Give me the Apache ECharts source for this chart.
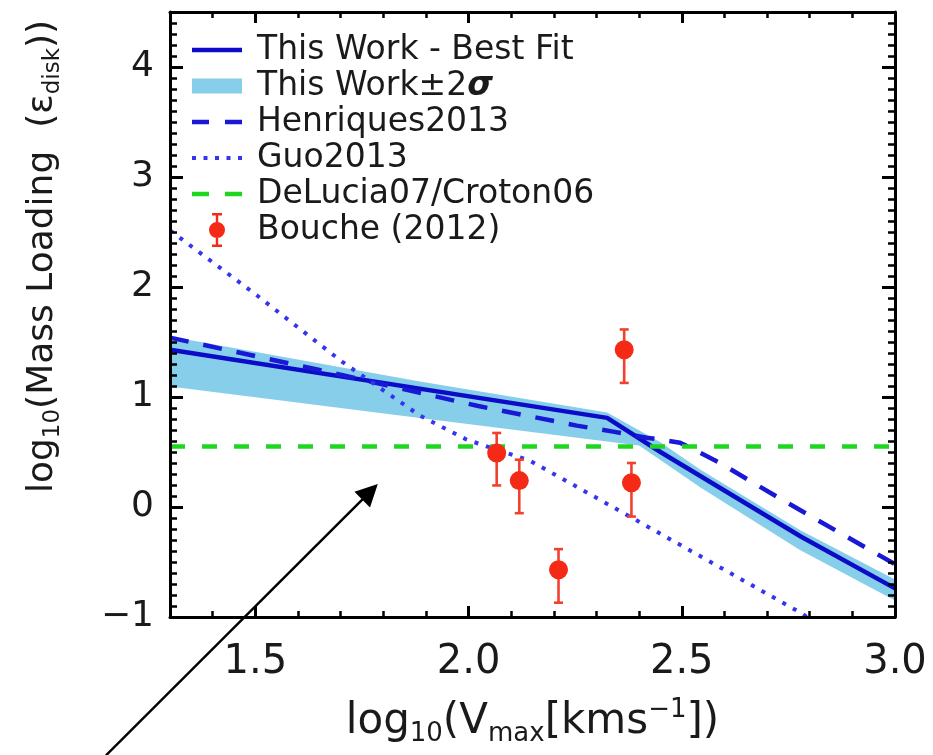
<!DOCTYPE html>
<html>
<head>
<meta charset="utf-8">
<title>Mass loading vs Vmax</title>
<script src="https://cdn.jsdelivr.net/npm/echarts@6/dist/echarts.min.js"></script>
<style>
  html, body { margin: 0; padding: 0; background: #fff; }
  #chart { width: 933px; height: 755px; }
</style>
</head>
<body>
<div id="chart"></div>
<script>
// ---- data ----
var xTicks = [1.5, 2.0, 2.5, 3.0];
var yTicks = [-1, 0, 1, 2, 3, 4];

// This Work - best fit
var fitX = [1.3, 2.325, 2.45, 2.78, 3.0];
var fitY = [1.43, 0.81, 0.50, -0.27, -0.74];

// This Work +-2 sigma band
var bandUpX = [1.3, 1.886, 2.325, 2.449, 2.543, 2.777, 3.0];
var bandUpY = [1.55, 1.14, 0.86, 0.59, 0.34, -0.21, -0.66];
var bandLoX = [1.3, 1.886, 2.325, 2.40, 2.449, 2.543, 2.777, 3.0];
var bandLoY = [1.095, 0.81, 0.595, 0.56, 0.43, 0.18, -0.39, -0.85];

// Henriques2013
var henX = [1.3, 1.645, 2.02, 2.254, 2.339, 2.418, 2.496, 2.585, 2.735, 2.871, 3.0];
var henY = [1.54, 1.25, 0.92, 0.74, 0.685, 0.63, 0.585, 0.41, 0.066, -0.235, -0.52];

// Guo2013
var guoX = [1.3, 1.504, 1.703, 1.886, 1.996, 2.144, 2.308, 2.542, 2.784, 2.81];
var guoY = [2.515, 1.923, 1.322, 0.831, 0.612, 0.421, 0.066, -0.444, -0.973, -1.05];

// DeLucia07/Croton06
var delX = [1.3, 3.0];
var delY = [0.55, 0.55];

// Bouche (2012)
var bX  = [2.066, 2.119, 2.211, 2.365, 2.382];
var bY  = [0.49, 0.24, -0.57, 1.43, 0.22];
var bLo = [0.196, -0.056, -0.87, 1.128, -0.087];
var bHi = [0.673, 0.43, -0.383, 1.614, 0.40];

// annotation arrow (tail, head) in data units
var arrowX = [1.150, 1.769];
var arrowY = [-2.257, 0.138];

// ---- styling ----
var FONT = 'DejaVu Sans';
var blueFit = '#0c0cc8';
var blueHen = '#1818d6';
var blueGuo = '#3535ee';
var bandColor = '#87ceeb';
var green = '#1fd61f';
var red = '#f42a16';
var redErr = '#f2402e';

// legend glyphs (drawn in a 50 x 34 legend cell)
var iconSolid = 'path://M0,0H50V4.5H0Z';
var iconDash = 'path://M0,0H17V4.5H0Z M33,0H50V4.5H33Z';
var iconDot = 'path://M0,0H4V4H0Z M11.5,0H15.5V4H11.5Z M23,0H27V4H23Z M34.5,0H38.5V4H34.5Z M46,0H50V4H46Z';
var iconBand = 'path://M0,0H50V15H0Z';
var iconErr = 'path://M4,0H14V2.4H4Z M7.8,1H10.2V33H7.8Z M4,31.6H14V34H4Z M1,17A8,8 0 1 1 17,17A8,8 0 1 1 1,17Z';

var chart = echarts.init(document.getElementById('chart'), null, {renderer: 'canvas'});

function pairs(xs, ys) {
    return xs.map(function (x, i) { return [x, ys[i]]; });
}

function xAxisDef(pos, major) {
    var ax = {
        type: 'value', position: pos, min: 1.3, max: 3.0, interval: 0.1, z: 3,
        splitLine: {show: false},
        axisLine: {show: major, onZero: false, lineStyle: {color: '#000', width: 3}},
        axisTick: {inside: true, length: major ? 11 : 6, lineStyle: {color: '#000', width: major ? 3 : 2.5}},
        axisLabel: {show: false}
    };
    if (major) {
        ax.axisTick.customValues = xTicks;
    }
    return ax;
}

function yAxisDef(pos, major) {
    var ax = {
        type: 'value', position: pos, min: -1, max: 4.5, interval: major ? 1 : 0.1, z: 3,
        splitLine: {show: false},
        axisLine: {show: major, onZero: false, lineStyle: {color: '#000', width: 3}},
        axisTick: {inside: true, length: major ? 13 : 7, lineStyle: {color: '#000', width: major ? 3 : 2.5}},
        axisLabel: {show: false}
    };
    if (major) {
        ax.axisTick.customValues = yTicks;
    }
    return ax;
}

var xMain = xAxisDef('bottom', true);
xMain.axisLabel = {
    show: true, customValues: xTicks, margin: 26,
    fontFamily: FONT, fontSize: 40, color: '#1a1a1a',
    formatter: function (v) { return v.toFixed(1); }
};
xMain.name = '{t|log}{s|10}{t|(V}{s|max}{t|[kms}{u|\u22121}{t|])}';
xMain.nameLocation = 'middle';
xMain.nameGap = 80;
xMain.nameTextStyle = {
    fontFamily: FONT, fontSize: 42, color: '#1a1a1a',
    rich: {
        t: {fontFamily: FONT, fontSize: 42, lineHeight: 50, color: '#1a1a1a'},
        s: {fontFamily: FONT, fontSize: 26, lineHeight: 22, verticalAlign: 'bottom', color: '#1a1a1a'},
        u: {fontFamily: FONT, fontSize: 26, lineHeight: 24, verticalAlign: 'top', color: '#1a1a1a'}
    }
};

var yMain = yAxisDef('left', true);
yMain.axisLabel = {
    show: true, customValues: yTicks, margin: 16,
    fontFamily: FONT, fontSize: 36, color: '#1a1a1a',
    formatter: function (v) { return v < 0 ? '\u2212' + Math.abs(v) : String(v); }
};
yMain.name = '{t|log}{s|10}{t|(Mass Loading  (\u03b5}{s|disk}{t|))}';
yMain.nameLocation = 'middle';
yMain.nameGap = 105;
yMain.nameTextStyle = {
    fontFamily: FONT, fontSize: 36, color: '#1a1a1a', padding: [0, 0, 0, 116],
    rich: {
        t: {fontFamily: FONT, fontSize: 36, lineHeight: 44, color: '#1a1a1a'},
        s: {fontFamily: FONT, fontSize: 23, lineHeight: 20, verticalAlign: 'bottom', color: '#1a1a1a'}
    }
};

var fitName = 'This Work - Best Fit';
var bandName = 'This Work\u00b12\u03c3';
var henName = 'Henriques2013';
var guoName = 'Guo2013';
var delName = 'DeLucia07/Croton06';
var bouName = 'Bouche (2012)';

var option = {
    animation: false,
    backgroundColor: '#fff',
    grid: {left: 170, right: 38, top: 12, bottom: 138, containLabel: false},
    xAxis: [xMain, xAxisDef('bottom', false), xAxisDef('top', true), xAxisDef('top', false)],
    yAxis: [yMain, yAxisDef('left', false), yAxisDef('right', true), yAxisDef('right', false)],
    legend: {
        orient: 'vertical', left: 192, top: 32, padding: 0,
        itemWidth: 50, itemHeight: 34, itemGap: 0,
        selectedMode: false,
        textStyle: {
            fontFamily: FONT, fontSize: 33, color: '#1a1a1a', lineHeight: 36, padding: [0, 0, 0, 10],
            rich: {g: {fontFamily: FONT, fontSize: 33, fontWeight: 'bold', fontStyle: 'italic', lineHeight: 36, color: '#1a1a1a'}}
        },
        formatter: function (name) {
            return name === bandName ? 'This Work\u00b12{g|\u03c3}' : name;
        },
        data: [
            {name: fitName, icon: iconSolid},
            {name: bandName, icon: iconBand},
            {name: henName, icon: iconDash},
            {name: guoName, icon: iconDot},
            {name: delName, icon: iconDash},
            {name: bouName, icon: iconErr}
        ]
    },
    series: [
        {
            name: bandName, type: 'custom', z: 1,
            itemStyle: {color: bandColor},
            data: [[bandUpX[0], bandUpY[0]]],
            encode: {x: 0, y: 1},
            renderItem: function (params, api) {
                var pts = [];
                for (var i = 0; i < bandUpX.length; i++) pts.push(api.coord([bandUpX[i], bandUpY[i]]));
                for (var j = bandLoX.length - 1; j >= 0; j--) pts.push(api.coord([bandLoX[j], bandLoY[j]]));
                return {type: 'polygon', shape: {points: pts}, style: {fill: bandColor}};
            }
        },
        {
            name: fitName, type: 'line', z: 2, symbol: 'none', data: pairs(fitX, fitY),
            itemStyle: {color: blueFit},
            lineStyle: {color: blueFit, width: 4.5}
        },
        {
            name: henName, type: 'line', z: 2, symbol: 'none', data: pairs(henX, henY),
            itemStyle: {color: blueHen},
            lineStyle: {color: blueHen, width: 4.5, type: [19, 15]}
        },
        {
            name: guoName, type: 'line', z: 2, symbol: 'none', data: pairs(guoX, guoY),
            itemStyle: {color: blueGuo},
            lineStyle: {color: blueGuo, width: 4, type: [4, 8]}
        },
        {
            name: delName, type: 'line', z: 2, symbol: 'none', data: pairs(delX, delY),
            itemStyle: {color: green},
            lineStyle: {color: green, width: 4.5, type: [15, 17]}
        },
        {
            name: bouName, type: 'scatter', z: 5, symbol: 'circle', symbolSize: 19,
            itemStyle: {color: red, opacity: 1},
            data: pairs(bX, bY)
        },
        {
            name: bouName, type: 'custom', z: 4,
            itemStyle: {color: red},
            data: bX.map(function (x, i) { return [x, bY[i], bLo[i], bHi[i]]; }),
            encode: {x: 0, y: 1},
            renderItem: function (params, api) {
                var x = api.value(0);
                var top = api.coord([x, api.value(3)]);
                var bot = api.coord([x, api.value(2)]);
                var cap = 4.5;
                var st = {stroke: redErr, lineWidth: 2.6};
                return {
                    type: 'group',
                    children: [
                        {type: 'line', shape: {x1: top[0], y1: top[1], x2: bot[0], y2: bot[1]}, style: st},
                        {type: 'line', shape: {x1: top[0] - cap, y1: top[1], x2: top[0] + cap, y2: top[1]}, style: st},
                        {type: 'line', shape: {x1: bot[0] - cap, y1: bot[1], x2: bot[0] + cap, y2: bot[1]}, style: st}
                    ]
                };
            }
        },
        {
            name: 'arrow', type: 'lines', coordinateSystem: 'cartesian2d', z: 10, clip: false,
            symbol: ['none', 'triangle'], symbolSize: 22,
            lineStyle: {color: '#000', width: 2.5, opacity: 1, curveness: 0},
            data: [{coords: pairs(arrowX, arrowY)}]
        }
    ]
};

chart.setOption(option);
</script>
</body>
</html>
